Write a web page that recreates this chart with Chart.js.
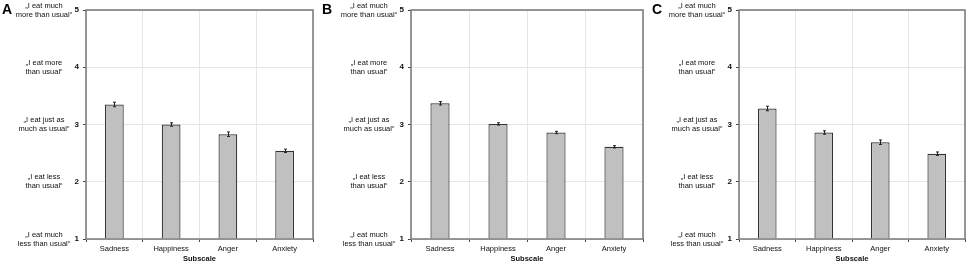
<!DOCTYPE html>
<html>
<head>
<meta charset="utf-8">
<script src="https://cdn.jsdelivr.net/npm/chart.js@4.4.0/dist/chart.umd.min.js"></script>
<style>
  html, body { margin: 0; padding: 0; background: #fff; }
  #wrap { position: relative; width: 970px; height: 263px; }
  .panel { position: absolute; top: 0; height: 263px; }
</style>
</head>
<body>
<div id="wrap">
  <div class="panel" style="left:0;width:320px"><canvas id="chartA"></canvas></div>
  <div class="panel" style="left:320px;width:330px"><canvas id="chartB"></canvas></div>
  <div class="panel" style="left:650px;width:320px"><canvas id="chartC"></canvas></div>
</div>
<script>
// Daten
const subscales = ["Sadness", "Happiness", "Anger", "Anxiety"];
const yTicks = [1, 2, 3, 4, 5];
const yTickLabels = [
    ["\u201EI eat much", "less than usual\u201C"],
    ["\u201EI eat less", "than usual\u201C"],
    ["\u201EI eat just as", "much as usual\u201C"],
    ["\u201EI eat more", "than usual\u201C"],
    ["\u201EI eat much", "more than usual\u201C"],
];
const meansA = [3.35, 3.00, 2.83, 2.54];
const errorsA = [0.04, 0.03, 0.04, 0.03];
const meansB = [3.37, 3.01, 2.86, 2.61];
const errorsB = [0.03, 0.02, 0.02, 0.02];
const meansC = [3.28, 2.86, 2.69, 2.49];
const errorsC = [0.04, 0.03, 0.04, 0.03];

const FONT = "'Liberation Sans', Arial, sans-serif";

function makePanel(id, letter, means, errors, yWidth, padRight) {
    const ctx = document.getElementById(id).getContext("2d");

    // Rahmen, Fehlerbalken, Beschriftungen
    const extras = {
        id: "extras",
        afterDatasetsDraw: (chart) => {
            const c = chart.ctx;
            const y = chart.scales.y;
            const meta = chart.getDatasetMeta(0);
            c.save();
            c.strokeStyle = "#222";
            c.lineWidth = 1;
            meta.data.forEach((bar, i) => {
                const x = Math.round(bar.x) + 0.5;
                const top = y.getPixelForValue(means[i] + errors[i]);
                const bot = y.getPixelForValue(means[i] - errors[i]);
                c.beginPath();
                c.moveTo(x, top);
                c.lineTo(x, bot);
                c.moveTo(x - 1.5, top);
                c.lineTo(x + 1.5, top);
                c.moveTo(x - 1.5, bot);
                c.lineTo(x + 1.5, bot);
                c.stroke();
            });
            const a = chart.chartArea;
            c.strokeStyle = "#777";
            c.lineWidth = 1.5;
            c.strokeRect(a.left, a.top, a.right - a.left, a.bottom - a.top);
            c.restore();
        },
        afterDraw: (chart) => {
            const c = chart.ctx;
            const y = chart.scales.y;
            const cx = chart.chartArea.left - 42;
            c.save();
            c.fillStyle = "#111";
            c.font = "7.5px " + FONT;
            c.textAlign = "center";
            c.textBaseline = "middle";
            yTicks.forEach((v, i) => {
                const py = y.getPixelForValue(v);
                c.fillText(yTickLabels[i][0], cx, py - 4.5);
                c.fillText(yTickLabels[i][1], cx, py + 4.5);
            });
            c.font = "bold 14px " + FONT;
            c.fillStyle = "#000";
            c.textAlign = "left";
            c.textBaseline = "top";
            c.fillText(letter, 2, 3);
            c.restore();
        },
    };

    return new Chart(ctx, {
        type: "bar",
        data: {
            labels: subscales,
            datasets: [
                {
                    data: means,
                    base: 1,
                    backgroundColor: "#c0c0c0",
                    borderColor: "#333",
                    borderWidth: 1.2,
                    barPercentage: 0.33,
                    categoryPercentage: 1,
                },
            ],
        },
        options: {
            responsive: true,
            maintainAspectRatio: false,
            animation: false,
            layout: { padding: { top: 10, right: padRight, bottom: 0, left: 0 } },
            scales: {
                x: {
                    afterFit: (s) => { s.height = 24; },
                    grid: {
                        color: "#e6e6e6",
                        tickColor: "#444",
                        tickLength: 3,
                        offset: true,
                    },
                    border: { display: false },
                    ticks: {
                        color: "#111",
                        padding: 2,
                        font: { size: 7.5, family: FONT },
                    },
                    title: {
                        display: true,
                        text: "Subscale",
                        color: "#111",
                        padding: 0,
                        font: { size: 7.5, weight: "bold", family: FONT },
                    },
                },
                y: {
                    min: 1,
                    max: 5,
                    afterFit: (s) => { s.width = yWidth; },
                    grid: {
                        color: "#e6e6e6",
                        tickColor: "#444",
                        tickLength: 3,
                    },
                    border: { display: false },
                    ticks: {
                        stepSize: 1,
                        color: "#111",
                        padding: 4,
                        font: { size: 8, weight: "bold", family: FONT },
                    },
                },
            },
            plugins: {
                legend: { display: false },
                tooltip: { enabled: false },
            },
        },
        plugins: [extras],
    });
}

makePanel("chartA", "A", meansA, errorsA, 86, 7);
makePanel("chartB", "B", meansB, errorsB, 91, 7);
makePanel("chartC", "C", meansC, errorsC, 89, 5);
</script>
</body>
</html>
